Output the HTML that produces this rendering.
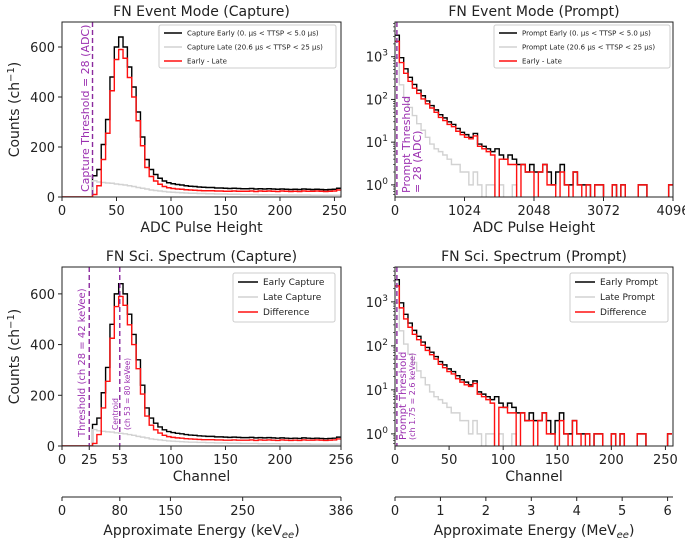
<!DOCTYPE html>
<html><head><meta charset="utf-8"><style>
html,body{margin:0;padding:0;background:#fff;}
svg{display:block;font-family:"DejaVu Sans","Liberation Sans",sans-serif;}
</style></head><body>
<svg id="fig" width="685" height="543" viewBox="0 0 685 543" xmlns="http://www.w3.org/2000/svg"></svg>
<script>
// ---- data: capture histograms (4-channel bins, counts per channel) ----
const capBinWidth = 4;
const capEarly = [0,0,0,0,0,0,0,85,110,210,310,480,600,640,600,520,440,340,240,150,110,90,75,64,57,53,50,48,45,43,42,40,39,38,38,36,36,35,34,35,34,33,33,34,32,33,32,33,32,31,32,31,30,31,30,32,31,30,31,30,29,30,31,35];
const capLate = [0,0,0,0,0,0,0,65,60,58,56,55,52,50,48,45,42,38,35,32,28,26,24,22,20,19,18,17,16,15,15,14,14,13,13,12,12,12,11,11,11,10,10,10,10,9,9,9,9,9,8,8,8,8,8,8,8,7,7,7,7,7,7,7];
const capDiff = [0,0,0,0,0,0,0,10,45,150,255,425,550,590,555,478,400,305,205,118,82,64,51,42,37,34,32,31,29,28,27,26,25,25,25,24,24,23,23,24,23,23,23,24,22,24,23,24,23,22,24,23,22,23,22,24,23,23,24,23,22,23,24,28];
// ---- data: prompt histograms (4-channel bins) ----
const prmBinWidth = 4;
const prmEarly = [3200,950,520,330,225,165,122,92,72,57,44,37,30,26,21,17,15,13,16,9,8,7,6,7,5,4,5,4,3,3,2,3,2,2,3,2,1,2,3,1,1,2,1,1,1,0,1,1,0,0,1,0,1,0,0,0,1,1,0,0,0,0,0,1];
const prmLate = [950,220,110,65,42,27,19,13,9,7,6,5,4,3,3,2,2,1,2,1,0,1,1,0,1,0,0,1,0,0,0,0,0,0,0,0,0,0,0,0,0,0,0,0,0,0,0,0,0,0,0,0,0,0,0,0,0,0,0,0,0,0,0,0];
const prmDiff = [2300,730,410,265,183,138,103,79,63,50,38,32,26,23,18,15,13,12,14,8,7,6,5,0,4,4,3,3,0,3,2,2,0,2,3,1,1,0,2,1,0,2,1,0,1,0,1,1,0,0,1,0,1,0,0,0,1,1,0,0,0,0,0,1];
// ---- tick labels ----
const capYTicks = [0,200,400,600];
const adcCapXTicks = [0,50,100,150,200,250];
const adcPrmXTicks = [0,1024,2048,3072,4096];
const chanCapXTicks = [0,25,53,100,150,200,256];
const chanPrmXTicks = [0,50,100,150,200,250];
const logYTicks = [0,1,2,3];
const keVTicks = [0,80,150,250,386];
const MeVTicks = [0,1,2,3,4,5,6];

const NS='http://www.w3.org/2000/svg';
const fig=document.getElementById('fig');
function el(tag,attrs,parent,text){const e=document.createElementNS(NS,tag);for(const k in attrs)e.setAttribute(k,attrs[k]);if(text!==undefined)e.textContent=text;(parent||fig).appendChild(e);return e;}

function panel(o){
  const g=el('g',{});
  
  
  const sx=v=>o.x0+(v-0)/(o.xmax)*(o.x1-o.x0);
  const sy=o.log?(v=>{if(v<=0)return o.y1+2;const y=o.y1-(Math.log10(v)-Math.log10(o.ymin))/(Math.log10(o.ymax)-Math.log10(o.ymin))*(o.y1-o.y0);return Math.min(y,o.y1+2);})
                :(v=>o.y1-v/o.ymax*(o.y1-o.y0));
  const cid='clip'+o.name;
  const cp=el('clipPath',{id:cid},g);el('rect',{x:o.x0,y:o.y0,width:o.x1-o.x0,height:o.y1-o.y0},cp);
  const dg=el('g',{'clip-path':'url(#'+cid+')'},g);
  o.series.forEach(s=>{
    let d='M'+sx(0)+','+sy(s.vals[0]);
    s.vals.forEach((v,i)=>{const xb=sx((i+1)*o.bw);d+=(i?'V'+sy(v):'')+'H'+xb;});
    const p=el('path',{d:d,fill:'none',stroke:s.color,'stroke-width':1.4,'stroke-linejoin':'miter'},dg);
    
    
  });
  o.vlines.forEach(v=>{
    const l=el('line',{x1:sx(v.x),x2:sx(v.x),y1:o.y0,y2:o.y1,stroke:'#8b2a9e','stroke-width':1.4,'stroke-dasharray':'5,3'},g);
    
    
  });
  o.vtexts.forEach(t=>{
    const tx=el('text',{x:0,y:0,transform:'translate('+t.x+','+t.y+') rotate(-90)','font-size':t.fs,fill:'#9b30b0'},g,t.text);
    
    
  });
  el('rect',{x:o.x0,y:o.y0,width:o.x1-o.x0,height:o.y1-o.y0,fill:'none',stroke:'#222','stroke-width':1},g);
  if(o.log){
    o.yt.forEach(e=>{const y=sy(Math.pow(10,e));
      el('line',{x1:o.x0-4,x2:o.x0,y1:y,y2:y,stroke:'#222'},g);
      const t=el('text',{x:o.x0-7,y:y+5,'text-anchor':'end','font-size':13,fill:'#222'},g,'10');
      el('tspan',{dy:-6,'font-size':9},t,String(e));
      
      
      for(let m=2;m<10;m++){const ym=sy(m*Math.pow(10,e));if(ym>o.y0&&ym<o.y1)el('line',{x1:o.x0-2,x2:o.x0,y1:ym,y2:ym,stroke:'#222','stroke-width':0.7},g);}
    });
    for(let m=6;m<10;m++){const ym=sy(m*0.1);if(ym>o.y0&&ym<o.y1)el('line',{x1:o.x0-2,x2:o.x0,y1:ym,y2:ym,stroke:'#222','stroke-width':0.7},g);}
  } else {
    o.yt.forEach(v=>{const y=sy(v);
      el('line',{x1:o.x0-4,x2:o.x0,y1:y,y2:y,stroke:'#222'},g);
      const t=el('text',{x:o.x0-7,y:y+5,'text-anchor':'end','font-size':13,fill:'#222'},g,String(v));
      
      
    });
    const yl=el('text',{x:0,y:0,transform:'translate(19,'+((o.y0+o.y1)/2)+') rotate(-90)','text-anchor':'middle','font-size':14,fill:'#222'},g,'Counts (ch');
    el('tspan',{dy:-5,'font-size':10},yl,'−1');
    el('tspan',{dy:5},yl,')');
    
    
  }
  o.xt.forEach(v=>{const x=sx(v);
    el('line',{x1:x,x2:x,y1:o.y1,y2:o.y1+4,stroke:'#222'},g);
    const t=el('text',{x:x,y:o.y1+18,'text-anchor':'middle','font-size':13,fill:'#222'},g,String(v));
    
    
  });
  const xl=el('text',{x:(o.x0+o.x1)/2,y:o.y1+35,'text-anchor':'middle','font-size':14,fill:'#222'},g,o.xlabel);
  
  
  const ti=el('text',{x:(o.x0+o.x1)/2,y:o.y0-6,'text-anchor':'middle','font-size':14,fill:'#222'},g,o.title);
  
  
  const L=o.legend;
  const lg=el('g',{},g);
  
  
  el('rect',{x:L.x,y:L.y,width:L.w,height:L.h,fill:'#fff',stroke:'#ccc',rx:2},lg);
  o.series.forEach((s,i)=>{const yy=L.y+L.pad+i*L.dy;
    el('line',{x1:L.x+5,x2:L.x+5+L.ll,y1:yy,y2:yy,stroke:s.color,'stroke-width':1.6},lg);
    const t=el('text',{x:L.x+10+L.ll,y:yy+L.fs*0.35,'font-size':L.fs,fill:'#222'},lg,s.label);
    
    
  });
  if(o.energy){const E=o.energy;const ey=E.y;
    el('line',{x1:o.x0,x2:o.x1,y1:ey,y2:ey,stroke:'#222'},g);
    E.ticks.forEach(v=>{const x=sx(v*E.chPer);
      el('line',{x1:x,x2:x,y1:ey,y2:ey+4,stroke:'#222'},g);
      const t=el('text',{x:x,y:ey+18,'text-anchor':'middle','font-size':13,fill:'#222'},g,String(v));
      
      
    });
    const et=el('text',{x:(o.x0+o.x1)/2,y:ey+38,'text-anchor':'middle','font-size':14,fill:'#222'},g,'Approximate Energy ('+E.unit);
    el('tspan',{dy:3,'font-size':10,'font-style':'italic'},et,'ee');
    el('tspan',{dy:-3},et,')');
    
    
  }
}

const K='#000',G='#d2d2d2',R='#ff1010';
panel({name:'event-mode-capture',x0:62,x1:341,y0:22,y1:197,xmax:256,ymax:700,bw:capBinWidth,log:false,
  yt:capYTicks,xt:adcCapXTicks,xlabel:'ADC Pulse Height',title:'FN Event Mode (Capture)',
  series:[{name:'capture-early-line',vals:capEarly,color:K,label:'Capture Early (0. μs < TTSP < 5.0 μs)'},
          {name:'capture-late-line',vals:capLate,color:G,label:'Capture Late (20.6 μs < TTSP < 25 μs)'},
          {name:'early-minus-late-line',vals:capDiff,color:R,label:'Early - Late'}],
  vlines:[{x:28,name:'capture-threshold-line'}],
  vtexts:[{x:89,y:192,fs:11,text:'Capture Threshold = 28 (ADC)'}],
  legend:{x:159,y:25,w:177,h:43,pad:8,dy:14,ll:18,fs:7}});
panel({name:'event-mode-prompt',x0:395,x1:673,y0:22,y1:197,xmax:4096,ymin:0.52,ymax:6500,bw:prmBinWidth*16,log:true,
  yt:logYTicks,xt:adcPrmXTicks,xlabel:'ADC Pulse Height',title:'FN Event Mode (Prompt)',
  series:[{name:'prompt-early-line',vals:prmEarly,color:K,label:'Prompt Early (0. μs < TTSP < 5.0 μs)'},
          {name:'prompt-late-line',vals:prmLate,color:G,label:'Prompt Late (20.6 μs < TTSP < 25 μs)'},
          {name:'early-minus-late-line',vals:prmDiff,color:R,label:'Early - Late'}],
  vlines:[{x:28,name:'prompt-threshold-line'}],
  vtexts:[{x:410,y:193,fs:11,text:'Prompt Threshold'},{x:421,y:193,fs:11,text:'= 28 (ADC)'}],
  legend:{x:494,y:25,w:176,h:43,pad:8,dy:14,ll:18,fs:7}});
panel({name:'sci-spectrum-capture',x0:62,x1:341,y0:267,y1:446,xmax:256,ymax:706,bw:capBinWidth,log:false,
  yt:capYTicks,xt:chanCapXTicks,xlabel:'Channel',title:'FN Sci. Spectrum (Capture)',
  series:[{name:'early-capture-line',vals:capEarly,color:K,label:'Early Capture'},
          {name:'late-capture-line',vals:capLate,color:G,label:'Late Capture'},
          {name:'difference-line',vals:capDiff,color:R,label:'Difference'}],
  vlines:[{x:25,name:'threshold-line'},{x:53,name:'centroid-line'}],
  vtexts:[{x:85,y:437,fs:10,text:'Threshold (ch 28 = 42 keVee)'},{x:118,y:430,fs:7.5,text:'Centroid'},{x:130,y:430,fs:7.5,text:'(ch 53 = 80 keVee)'}],
  legend:{x:233,y:273,w:102,h:49,pad:9,dy:15,ll:20,fs:9},
  energy:{y:497,ticks:keVTicks,chPer:1/1.508,unit:'keV'}});
panel({name:'sci-spectrum-prompt',x0:395,x1:673,y0:267,y1:446,xmax:257,ymin:0.53,ymax:6200,bw:prmBinWidth,log:true,
  yt:logYTicks,xt:chanPrmXTicks,xlabel:'Channel',title:'FN Sci. Spectrum (Prompt)',
  series:[{name:'early-prompt-line',vals:prmEarly,color:K,label:'Early Prompt'},
          {name:'late-prompt-line',vals:prmLate,color:G,label:'Late Prompt'},
          {name:'difference-line',vals:prmDiff,color:R,label:'Difference'}],
  vlines:[{x:1.75,name:'prompt-threshold-line'}],
  vtexts:[{x:406,y:440,fs:10,text:'Prompt Threshold'},{x:415,y:440,fs:8,text:'(ch 1.75 = 2.6 keVee)'}],
  legend:{x:570,y:273,w:98,h:49,pad:9,dy:15,ll:20,fs:9},
  energy:{y:497,ticks:MeVTicks,chPer:42,unit:'MeV'}});
</script>
</body></html>
